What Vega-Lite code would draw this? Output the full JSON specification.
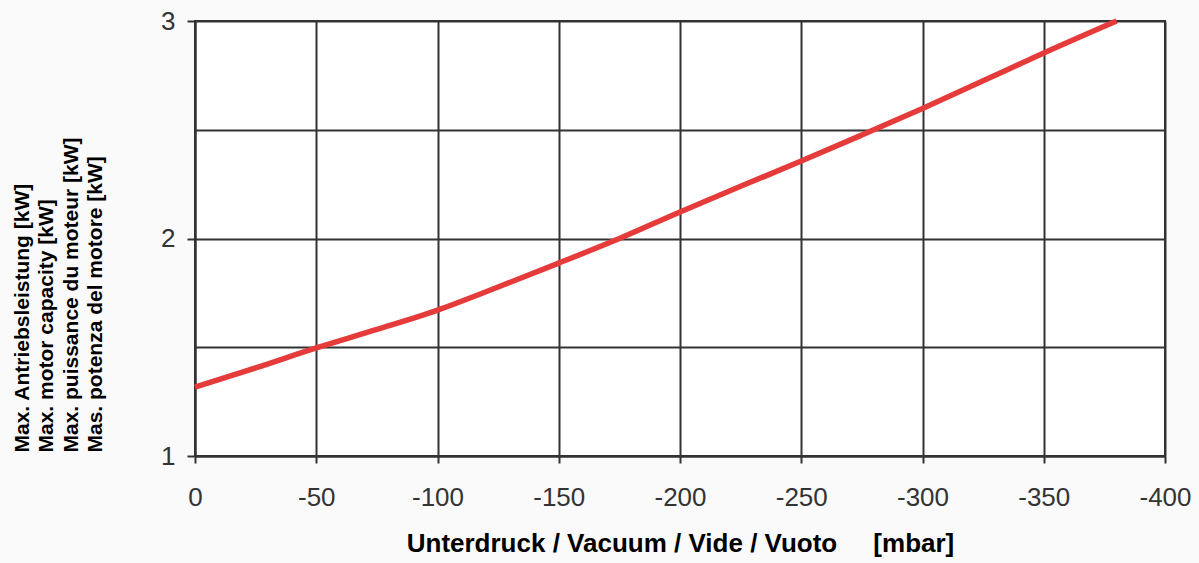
{
  "$schema": "https://vega.github.io/schema/vega-lite/v6.json",
  "width": 970,
  "height": 435,
  "autosize": {"type": "none"},
  "padding": {"left": 195, "top": 21, "right": 34, "bottom": 107},
  "background": "#fafafa",
  "config": {
    "view": {"fill": "#ffffff", "stroke": "#333333", "strokeWidth": 2},
    "font": "Liberation Sans"
  },
  "data": {
    "values": [
      {"vacuum": 0, "power": 1.317},
      {"vacuum": -25, "power": 1.405},
      {"vacuum": -50, "power": 1.497},
      {"vacuum": -75, "power": 1.582},
      {"vacuum": -100, "power": 1.671},
      {"vacuum": -125, "power": 1.777},
      {"vacuum": -150, "power": 1.887},
      {"vacuum": -175, "power": 2.0},
      {"vacuum": -200, "power": 2.122},
      {"vacuum": -225, "power": 2.24},
      {"vacuum": -250, "power": 2.356},
      {"vacuum": -275, "power": 2.476},
      {"vacuum": -300, "power": 2.598},
      {"vacuum": -325, "power": 2.725},
      {"vacuum": -350, "power": 2.853},
      {"vacuum": -380, "power": 3.0}
    ]
  },
  "mark": {"type": "line", "color": "#e53b3b", "strokeWidth": 5.5, "interpolate": "monotone", "strokeCap": "butt"},
  "encoding": {
    "x": {
      "field": "vacuum",
      "type": "quantitative",
      "scale": {"domain": [0, -400], "nice": false},
      "axis": {
        "values": [0, -50, -100, -150, -200, -250, -300, -350, -400],
        "labelExpr": "'' + datum.value",
        "labelFlush": false,
        "title": "Unterdruck / Vacuum / Vide / Vuoto\u00a0\u00a0\u00a0\u00a0\u00a0[mbar]",
        "titleFontSize": 26,
        "titleFontWeight": "bold",
        "titleColor": "#000000",
        "titleY": 95,
        "titleBaseline": "alphabetic",
        "labelFontSize": 26,
        "labelColor": "#333333",
        "labelPadding": 21,
        "tickSize": 7,
        "tickWidth": 2,
        "tickColor": "#333333",
        "domainColor": "#333333",
        "domainWidth": 2,
        "grid": true,
        "gridColor": "#333333",
        "gridWidth": 2,
        "gridOpacity": 1
      }
    },
    "y": {
      "field": "power",
      "type": "quantitative",
      "scale": {"domain": [1, 3], "nice": false, "zero": false},
      "axis": {
        "values": [1, 1.5, 2, 2.5, 3],
        "labelExpr": "datum.value % 1 === 0 ? '' + datum.value : ''",
        "labelFlush": false,
        "tickOpacity": {"condition": {"test": "datum.value % 1 !== 0", "value": 0}, "value": 1},
        "title": ["Max. Antriebsleistung [kW]", "Max. motor capacity [kW]", "Max. puissance du moteur [kW]", "Mas. potenza del motore [kW]"],
        "titleFontSize": 21,
        "titleFontWeight": "bold",
        "titleColor": "#000000",
        "titleAngle": 270,
        "titleAlign": "left",
        "titleBaseline": "alphabetic",
        "titleLineHeight": 24.5,
        "titleX": -167,
        "titleY": 431,
        "labelFontSize": 26,
        "labelColor": "#333333",
        "labelPadding": 12,
        "tickSize": 8,
        "tickWidth": 2,
        "tickColor": "#333333",
        "domainColor": "#333333",
        "domainWidth": 2,
        "grid": true,
        "gridColor": "#333333",
        "gridWidth": 2,
        "gridOpacity": 1
      }
    }
  }
}
